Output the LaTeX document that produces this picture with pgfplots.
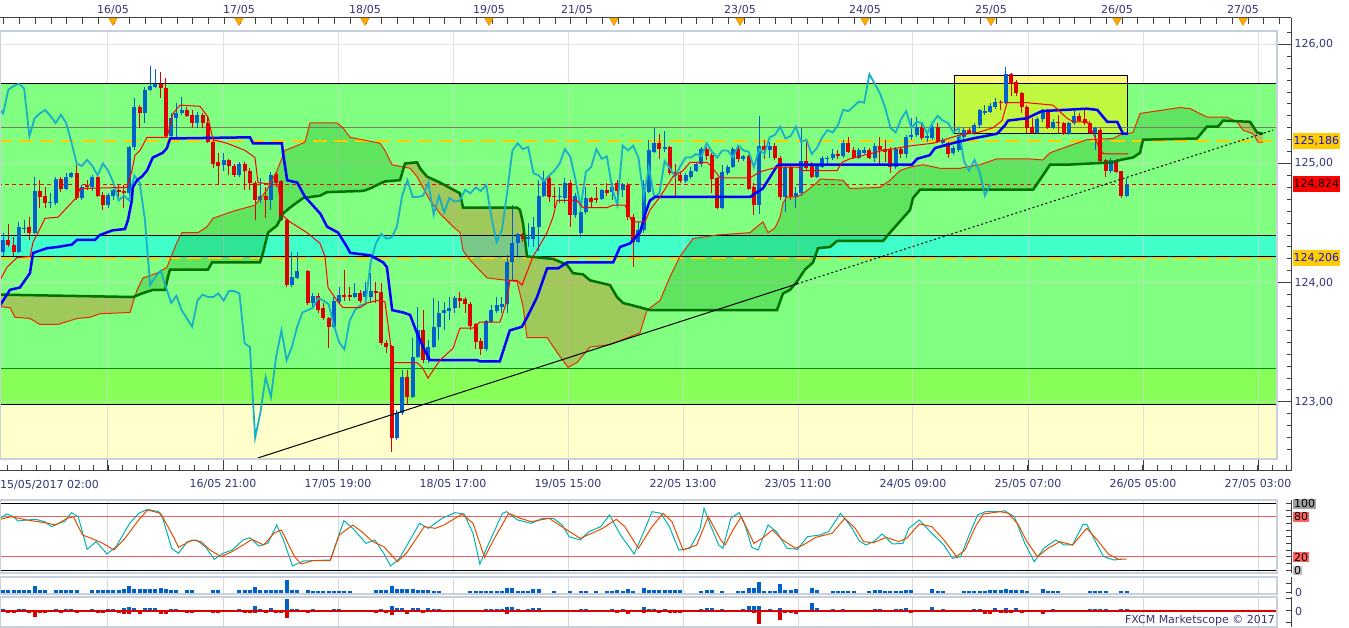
\documentclass[border=0pt]{standalone}
\usepackage{fontspec}
\setmainfont{DejaVu Sans}
\usepackage{pgfplots}
\usepackage{pgfplotstable}
\pgfplotsset{compat=1.18}

\definecolor{bgG}{RGB}{128,255,128}
\definecolor{bgL}{RGB}{136,255,88}
\definecolor{bgY}{RGB}{255,255,204}
\definecolor{bgC}{RGB}{64,255,200}
\definecolor{cB}{RGB}{0,96,204}
\definecolor{cR}{RGB}{221,0,0}
\definecolor{kij}{RGB}{0,0,255}
\definecolor{chik}{RGB}{24,176,200}
\definecolor{sA}{RGB}{235,40,0}
\definecolor{sB}{RGB}{0,112,0}
\definecolor{navy}{RGB}{51,51,120}
\definecolor{lvO}{RGB}{255,204,0}
\definecolor{frm}{RGB}{200,208,220}
\definecolor{stK}{RGB}{0,178,178}
\definecolor{stD}{RGB}{228,76,0}
\definecolor{cloudG}{RGB}{0,150,0}
\definecolor{cloudK}{RGB}{210,120,40}
\definecolor{lvR}{RGB}{240,96,96}
\definecolor{axc}{RGB}{64,64,64}
\definecolor{grd}{RGB}{205,215,205}
\definecolor{lvGray}{RGB}{120,128,96}
\definecolor{triO}{RGB}{255,170,0}
\definecolor{triE}{RGB}{220,130,0}

\newcommand{\lbl}{\fontsize{11bp}{13bp}\selectfont}

\pgfplotsset{
  base/.style={
    scale only axis, width=1291bp,
    xmin=-0.6, xmax=245.305,
    tick style={draw=axc, line width=1bp},
    tick label style={font=\lbl, text=navy},
    tick align=inside,
  },
  fin/.style={
    axis line style={-, draw=axc, line width=1bp},
    every outer x axis line/.append style={-},
    every outer y axis line/.append style={-},
    every inner x axis line/.append style={-},
    every inner y axis line/.append style={-},
  },
}

\pgfplotstableread{
i o h l c d
0 124.26 124.42 124.22 124.36 1
1 124.36 124.49 124.30 124.32 0
2 124.32 124.38 124.22 124.26 0
3 124.26 124.51 124.25 124.47 1
4 124.45 124.53 124.42 124.46 1
5 124.47 124.55 124.36 124.42 0
6 124.42 124.89 124.41 124.77 1
7 124.77 124.86 124.63 124.72 0
8 124.73 124.80 124.63 124.67 0
9 124.67 124.75 124.63 124.68 1
10 124.67 124.89 124.65 124.87 1
11 124.87 124.89 124.76 124.79 0
12 124.79 124.92 124.78 124.89 1
13 124.89 124.93 124.88 124.92 1
14 124.92 124.99 124.69 124.71 0
15 124.71 124.82 124.69 124.80 1
16 124.82 124.86 124.78 124.80 0
17 124.80 124.90 124.77 124.89 1
18 124.89 124.90 124.72 124.73 0
19 124.74 124.76 124.61 124.65 0
20 124.65 124.75 124.63 124.74 1
21 124.73 124.79 124.69 124.78 1
22 124.78 124.82 124.72 124.76 0
23 124.77 124.82 124.63 124.75 0
24 124.75 125.15 124.72 125.14 1
25 125.14 125.55 125.11 125.47 1
26 125.47 125.49 125.30 125.42 0
27 125.42 125.64 125.34 125.62 1
28 125.62 125.82 125.61 125.65 1
29 125.64 125.79 125.63 125.67 1
30 125.67 125.77 125.55 125.63 0
31 125.63 125.72 125.21 125.23 0
32 125.23 125.42 125.21 125.38 1
33 125.38 125.51 125.22 125.42 1
34 125.42 125.56 125.41 125.45 1
35 125.45 125.47 125.39 125.40 0
36 125.41 125.45 125.30 125.34 0
37 125.34 125.43 125.30 125.41 1
38 125.41 125.42 125.30 125.34 0
39 125.34 125.39 125.17 125.18 0
40 125.18 125.20 124.96 125.00 0
41 125.01 125.09 124.82 124.98 0
42 124.99 125.09 124.94 125.03 1
43 125.03 125.04 124.90 124.98 0
44 124.98 125.00 124.89 124.90 0
45 124.90 125.01 124.89 125.00 1
46 125.00 125.01 124.78 124.94 0
47 124.94 124.96 124.78 124.84 0
48 124.84 124.85 124.53 124.69 0
49 124.69 124.88 124.67 124.73 1
50 124.73 124.80 124.54 124.69 0
51 124.69 124.93 124.61 124.90 1
52 124.91 124.93 124.80 124.84 0
53 124.85 124.86 124.52 124.53 0
54 124.53 124.54 123.96 123.98 0
55 123.98 124.26 123.96 124.05 1
56 124.04 124.26 124.03 124.10 1
58 124.10 124.11 123.81 123.83 0
59 123.83 123.91 123.80 123.89 1
60 123.89 123.91 123.75 123.77 0
61 123.79 123.83 123.69 123.70 0
62 123.70 123.71 123.45 123.63 0
63 123.63 123.88 123.62 123.85 1
64 123.84 123.96 123.83 123.90 1
65 123.90 124.11 123.85 123.88 0
66 123.90 123.96 123.85 123.88 0
67 123.88 124.00 123.87 123.91 1
68 123.91 123.94 123.83 123.85 0
69 123.88 124.01 123.85 123.93 1
70 123.88 124.08 123.83 123.93 1
71 123.93 124.01 123.83 123.91 0
72 123.92 124.00 123.48 123.49 0
73 123.49 123.52 123.41 123.46 0
74 123.47 123.48 122.58 122.70 0
75 122.70 122.93 122.68 122.91 1
76 122.91 123.27 122.89 123.21 1
77 123.21 123.27 122.97 123.04 0
78 123.04 123.54 123.03 123.38 1
79 123.38 123.80 123.37 123.60 1
80 123.60 123.77 123.33 123.35 0
81 123.35 123.52 123.33 123.46 1
82 123.46 123.87 123.45 123.63 1
83 123.63 123.85 123.52 123.75 1
84 123.75 123.84 123.60 123.77 1
85 123.76 123.88 123.69 123.79 1
86 123.79 123.89 123.75 123.87 1
87 123.87 123.92 123.79 123.85 0
88 123.86 123.88 123.75 123.82 0
89 123.82 123.84 123.60 123.64 0
90 123.65 123.66 123.44 123.50 0
91 123.51 123.54 123.39 123.44 0
92 123.44 123.69 123.43 123.68 1
93 123.67 123.81 123.66 123.77 1
94 123.76 123.88 123.75 123.81 1
95 123.80 123.88 123.75 123.82 1
96 123.82 124.23 123.75 124.17 1
97 124.17 124.65 124.02 124.33 1
98 124.33 124.42 124.22 124.41 1
99 124.41 124.42 124.34 124.37 0
100 124.37 124.50 124.30 124.38 1
101 124.37 124.55 124.30 124.47 1
102 124.47 124.86 124.27 124.73 1
103 124.73 124.94 124.72 124.86 1
104 124.88 124.90 124.68 124.72 0
105 124.73 124.80 124.63 124.72 0
106 124.72 124.80 124.67 124.73 1
107 124.71 124.88 124.67 124.84 1
108 124.84 124.86 124.47 124.57 0
109 124.57 124.75 124.54 124.73 1
110 124.42 124.61 124.38 124.59 1
111 124.59 124.80 124.58 124.71 1
112 124.71 124.72 124.63 124.68 0
113 124.71 124.80 124.67 124.69 0
114 124.70 124.79 124.69 124.78 1
115 124.78 124.84 124.73 124.75 0
116 124.76 124.84 124.69 124.80 1
117 124.84 124.86 124.67 124.77 0
118 124.78 124.84 124.72 124.82 1
119 124.82 124.84 124.53 124.55 0
120 124.55 124.58 124.13 124.34 0
121 124.34 124.51 124.33 124.44 1
122 124.44 124.86 124.42 124.76 1
123 124.76 125.20 124.75 125.11 1
124 125.10 125.30 125.09 125.17 1
125 125.17 125.25 125.04 125.12 0
126 125.12 125.27 125.10 125.14 1
127 125.14 125.15 124.90 124.92 0
128 124.93 125.00 124.72 124.90 0
129 124.90 124.93 124.84 124.85 0
130 124.85 124.92 124.84 124.90 1
131 124.89 124.97 124.87 124.94 1
132 124.94 125.01 124.93 125.00 1
133 125.00 125.14 124.97 125.12 1
134 125.12 125.14 125.03 125.06 0
135 125.07 125.09 124.75 124.87 0
136 124.88 124.89 124.62 124.63 0
137 124.63 124.99 124.62 124.93 1
138 124.92 124.99 124.90 124.97 1
139 124.97 125.14 124.96 125.12 1
140 125.12 125.14 125.01 125.04 0
141 125.04 125.07 125.02 125.06 1
142 125.06 125.07 124.78 124.79 0
143 124.80 124.84 124.57 124.65 0
144 124.65 125.40 124.58 125.15 1
145 125.15 125.20 125.04 125.11 0
146 125.11 125.18 125.05 125.15 1
147 125.15 125.17 125.03 125.05 0
148 125.05 125.06 124.69 124.72 0
149 124.72 124.98 124.59 124.97 1
150 124.97 124.99 124.69 124.72 0
151 124.72 124.80 124.63 124.75 1
152 124.75 125.30 124.73 125.02 1
153 125.02 125.18 124.94 124.96 0
154 124.98 125.01 124.88 124.89 0
155 124.89 124.99 124.88 124.98 1
156 124.97 125.06 124.96 125.05 1
157 125.04 125.06 125.00 125.05 1
158 125.05 125.12 125.03 125.08 1
159 125.08 125.11 125.04 125.06 0
160 125.06 125.20 125.05 125.17 1
161 125.17 125.22 125.09 125.10 0
162 125.11 125.14 125.04 125.05 0
163 125.05 125.13 125.04 125.11 1
164 125.09 125.14 125.08 125.11 1
165 125.11 125.13 125.04 125.05 0
166 125.05 125.17 125.01 125.15 1
167 125.15 125.22 125.00 125.11 0
168 125.12 125.20 125.01 125.10 0
169 125.12 125.14 124.92 124.97 0
170 124.97 125.14 124.95 125.12 1
171 125.12 125.14 125.05 125.08 0
172 125.08 125.24 125.05 125.22 1
173 125.22 125.38 125.20 125.24 1
174 125.24 125.39 125.22 125.31 1
175 125.31 125.35 125.20 125.21 0
176 125.21 125.26 125.18 125.23 1
177 125.21 125.32 125.20 125.31 1
178 125.31 125.34 125.17 125.18 0
179 125.17 125.21 125.15 125.20 1
180 125.17 125.18 125.05 125.08 0
181 125.09 125.15 125.07 125.13 1
182 125.11 125.24 125.10 125.22 1
183 125.22 125.30 125.20 125.28 1
184 125.28 125.30 125.25 125.26 0
185 125.26 125.34 125.24 125.32 1
186 125.32 125.46 125.30 125.45 1
187 125.42 125.49 125.41 125.44 1
188 125.43 125.51 125.42 125.48 1
189 125.47 125.55 125.46 125.52 1
190 125.52 125.53 125.45 125.51 0
191 125.51 125.81 125.50 125.75 1
192 125.75 125.76 125.57 125.67 0
193 125.68 125.70 125.57 125.59 0
194 125.59 125.60 125.42 125.47 0
195 125.47 125.49 125.26 125.30 0
196 125.31 125.38 125.25 125.26 0
197 125.26 125.39 125.25 125.37 1
198 125.37 125.46 125.35 125.44 1
199 125.44 125.46 125.29 125.30 0
200 125.30 125.37 125.29 125.35 1
201 125.35 125.41 125.25 125.34 0
202 125.34 125.35 125.24 125.25 0
203 125.25 125.35 125.24 125.34 1
204 125.34 125.45 125.32 125.40 1
205 125.40 125.42 125.35 125.36 0
206 125.37 125.45 125.32 125.34 0
207 125.34 125.36 125.25 125.26 0
208 125.26 125.31 125.11 125.30 1
209 125.28 125.30 125.01 125.02 0
210 125.03 125.04 124.89 124.94 0
211 124.94 125.05 124.92 125.03 1
212 125.03 125.04 124.92 124.93 0
213 124.94 124.94 124.71 124.73 0
214 124.73 124.88 124.72 124.82 1
}\candles

\pgfplotstableread{
i v
0 2.5
1 2.5
2 2.5
3 2.5
4 2.5
5 2.5
6 6.5
7 2.5
8 2.5
10 2.5
11 2.5
12 2.5
13 2.5
14 2.5
17 2.5
18 2.5
19 3
20 2.5
21 2.5
22 2.5
23 4
24 6.5
25 3.5
26 3.5
27 3.5
28 3.5
29 3.5
30 4.5
31 3.5
32 2.5
33 2.5
35 2.5
36 2.5
40 3
41 3
45 2.5
46 2.5
47 2.5
48 5.5
49 2.5
50 2.5
51 3
52 3
53 3
54 13
55 2.5
56 2.5
58 2.5
59 2
60 2
61 2
62 2
63 2
64 2
65 2
66 2
71 2.5
72 2.5
73 3
74 7
75 3.5
76 3.5
77 3.5
78 3.5
79 3
80 3
81 3
82 2
83 2
89 2
90 2
91 2
92 2
93 2
94 2
95 2
96 4.5
97 4.5
98 2
99 2
100 2
101 3.5
102 3.5
105 2
108 2
110 2
111 2
113 2
115 2
116 2
117 3
118 2
119 3.5
120 2
122 5
123 2.5
124 2.5
125 2.5
126 2.5
127 2.5
128 2.5
129 2.5
133 2
134 3
135 3
137 2
140 2
141 2
142 5
143 5
144 11
145 2
146 2
147 2
148 9
149 2.5
150 2.5
151 3.5
154 5
155 3
158 2
159 2
160 2
161 2
162 2
165 2
166 2.5
167 2.5
168 2
169 2
170 2
171 2
172 3
173 3
177 3.5
178 2
179 2
183 2
184 2
185 2
186 2
187 2
188 3
189 3
190 3
191 4
192 3
193 3
194 3
195 2
198 3.5
199 2
200 2
201 2
207 2
208 2
209 2
210 2
213 2
214 2
}\vol

\pgfplotstableread{
i p
0 2
1 -2
2 -2
3 2
4 2
5 -2
6 -6
7 -2
8 -2
10 2
11 -2
12 2
13 2
14 -2
17 2
18 -2
19 -2.5
20 2
21 2
22 -2
23 3
23 -3
24 4
24 -3
25 3
26 -3
27 3
28 3
29 3
30 -3.5
31 -3
32 2
33 2
35 -2
36 -2
40 -2.5
41 -2.5
45 2
46 -2
47 -2
48 4.5
48 -2
49 2
50 -2
51 2.5
52 -2.5
53 -2.5
54 12
54 -7
55 2
56 2
58 -2
59 1.5
60 -1.5
61 -1.5
62 -1.5
63 1.5
64 1.5
65 -1.5
66 -1.5
71 -2
72 2
73 -2.5
74 5
74 -4
75 3
76 3
77 -3
78 3
79 2.5
80 -2.5
81 2.5
82 1.5
83 1.5
89 -1.5
90 -1.5
91 -1.5
92 1.5
93 1.5
94 1.5
95 1.5
96 3.5
96 -3
97 3.5
98 1.5
99 -1.5
100 1.5
101 3
102 3
105 -1.5
108 -1.5
110 1.5
111 1.5
113 -1.5
115 -1.5
116 1.5
117 -2.5
118 1.5
119 -3
120 -1.5
122 4
122 -2
123 2
124 2
125 -2
126 2
127 -2
128 -2
129 -2
133 1.5
134 2.5
135 2.5
137 1.5
140 -1.5
141 1.5
142 5
143 5
143 -2
144 5
144 -13
145 -1.5
146 1.5
147 -1.5
148 3
148 -9
149 -2
150 -2
151 -3.5
154 8
155 2.5
158 1.5
159 -1.5
160 1.5
161 -1.5
162 -1.5
165 -1.5
166 2
167 2
168 -1.5
169 -1.5
170 1.5
171 1.5
172 2.5
173 -2.5
177 4
178 -1.5
179 1.5
183 -1.5
184 -1.5
185 1.5
186 2
187 -3
188 -3
189 2.5
190 -2.5
191 3
191 -2.5
192 -2.5
193 2.5
194 -2.5
195 -1.5
198 -3
199 -1.5
200 1.5
201 -1.5
207 1.5
208 1.5
209 1.5
210 1.5
213 1.5
214 1.5
}\pthree

\begin{document}
\begin{tikzpicture}[x=1bp,y=1bp]
\useasboundingbox (0,0) rectangle (1349,628);

% ================= MAIN PRICE PANEL =================
\begin{axis}[base, at={(0bp,169bp)}, anchor=south west, height=428bp,
  ymin=122.521, ymax=126.112,
  axis x line=none, axis y line*=right,
  ytick={123,124,125,126},
  minor ytick={122.6,122.7,...,126.15},
  major tick length=14bp, minor tick length=4bp,
  /pgf/number format/fixed, /pgf/number format/fixed zerofill,
  /pgf/number format/precision=2, /pgf/number format/use comma,
  /pgf/number format/assume math mode=true,
  clip=true, fin]
% background zones
\addplot[draw=none, fill=bgG] coordinates {(-1,123.28) (242.64,123.28) (242.64,125.673) (-1,125.673)};
\addplot[draw=none, fill=bgL] coordinates {(-1,122.98) (242.64,122.98) (242.64,123.28) (-1,123.28)};
\addplot[draw=none, fill=bgY] coordinates {(-1,122.3) (242.64,122.3) (242.64,122.98) (-1,122.98)};
\addplot[draw=none, fill=bgC] coordinates {(-1,124.206) (242.64,124.206) (242.64,124.40) (-1,124.40)};
% grid
\addplot[ycomb, draw=grd, draw opacity=0.7, line width=1bp] coordinates {(19.97,127) (41.88,127) (63.78,127) (85.69,127) (107.59,127) (129.50,127) (151.40,127) (173.30,127) (195.21,127) (217.12,127) (239.02,127)};
\addplot[draw=grd, draw opacity=0.7, line width=1bp] coordinates {(-1,126) (242.64,126)};
\addplot[draw=grd, draw opacity=0.7, line width=1bp] coordinates {(-1,125) (242.64,125)};
\addplot[draw=grd, draw opacity=0.7, line width=1bp] coordinates {(-1,124) (242.64,124)};
\addplot[draw=grd, draw opacity=0.7, line width=1bp] coordinates {(-1,123) (242.64,123)};
% cloud segments
\addplot[draw=none, fill=cloudK, fill opacity=0.4] coordinates {(-0.6,123.80) (1.30,123.79) (2.26,123.71) (5.11,123.70) (7.02,123.65) (10.45,123.65) (14.07,123.70) (16.54,123.71) (18.45,123.74) (24.16,123.75) (25.2,123.89) (24.73,123.88) (-0.6,123.90)};
\addplot[draw=none, fill=cloudG, fill opacity=0.25] coordinates {(25.2,123.89) (25.50,123.94) (26.64,124.04) (29.30,124.08) (31.21,124.13) (33.11,124.34) (34.07,124.42) (37.11,124.42) (38.83,124.47) (39.97,124.54) (43.78,124.60) (47.97,124.65) (50.26,124.78) (52.16,124.94) (53.69,125.11) (55.97,125.15) (57.50,125.18) (58.45,125.34) (63.59,125.34) (64.73,125.30) (66.07,125.22) (71.78,125.17) (72.73,125.11) (74.07,124.99) (76.3,124.97) (75.59,124.86) (72.73,124.85) (71.21,124.82) (69.88,124.79) (68.54,124.77) (61.69,124.76) (60.35,124.73) (57.11,124.71) (54.64,124.63) (53.30,124.58) (52.16,124.48) (50.45,124.42) (49.50,124.25) (48.92,124.17) (39.78,124.17) (39.02,124.11) (31.78,124.11) (31.40,124.05) (30.83,123.94) (28.54,123.94) (26.45,123.91)};
\addplot[draw=none, fill=cloudK, fill opacity=0.4] coordinates {(76.3,124.97) (77.50,124.96) (78.83,124.89) (81.30,124.69) (83.21,124.58) (85.69,124.47) (87.02,124.42) (87.59,124.27) (88.92,124.19) (92.16,124.04) (97.88,124.01) (99.02,123.80) (99.78,123.54) (103.59,123.54) (106.07,123.38) (107.59,123.29) (109.30,123.33) (111.78,123.46) (115.59,123.48) (121.30,123.58) (122.64,123.77) (122.9,123.78) (120.73,123.80) (118.07,123.83) (116.92,123.88) (115.59,123.98) (111.78,124.02) (110.45,124.07) (108.54,124.08) (107.40,124.15) (104.73,124.20) (99.78,124.22) (99.02,124.50) (98.45,124.61) (97.88,124.63) (87.59,124.63) (87.02,124.75) (83.21,124.84) (80.73,124.89) (79.40,124.96) (78.83,125.01) (76.54,125.00)};
\addplot[draw=none, fill=cloudG, fill opacity=0.25] coordinates {(122.9,123.78) (125.11,123.85) (127.02,124.05) (128.92,124.22) (131.40,124.37) (135.97,124.40) (142.26,124.42) (143.59,124.47) (144.73,124.51) (145.69,124.42) (147.02,124.46) (147.97,124.55) (148.54,124.67) (149.30,124.72) (151.21,124.72) (152.73,124.76) (155.02,124.84) (155.59,124.87) (159.97,124.86) (161.30,124.79) (167.02,124.80) (168.92,124.86) (170.83,124.94) (172.73,124.97) (175.21,124.99) (178.45,124.96) (182.26,124.96) (186.07,124.99) (189.30,125.04) (195.02,125.04) (198.07,125.03) (199.40,125.09) (201.88,125.13) (206.45,125.20) (211.40,125.21) (212.73,125.24) (215.21,125.26) (216.55,125.42) (224.16,125.47) (226.07,125.46) (229.30,125.39) (233.11,125.39) (234.9,125.35) (232.35,125.36) (231.40,125.31) (229.30,125.31) (227.40,125.21) (217.12,125.20) (216.55,125.09) (215.21,125.05) (212.73,125.03) (211.40,125.01) (202.64,124.99) (199.40,124.99) (197.11,124.84) (196.16,124.78) (174.64,124.78) (173.30,124.71) (172.73,124.61) (168.92,124.42) (167.59,124.35) (158.83,124.35) (157.50,124.30) (155.21,124.29) (154.26,124.17) (152.73,124.11) (151.21,124.01) (149.88,123.94) (148.54,123.91) (147.40,123.77) (123.21,123.77)};
\addplot[draw=none, fill=cloudK, fill opacity=0.4] coordinates {(234.9,125.35) (235.02,125.35) (236.16,125.28) (238.07,125.25) (239.02,125.18) (239.97,125.18) (239.97,125.25) (238.83,125.26) (237.50,125.35)};
% highlight box
\addplot[fill=yellow, fill opacity=0.5, draw=black, line width=1bp] coordinates {(181.3,125.25) (214.07,125.25) (214.07,125.74) (181.3,125.74) (181.3,125.25)};
% level lines
\addplot[black, line width=1bp] coordinates {(-1,125.673) (242.64,125.673)};
\addplot[lvGray, line width=1bp] coordinates {(-1,125.30) (242.64,125.30)};
\addplot[lvO, line width=2bp, dash pattern=on 14bp off 7bp] coordinates {(-1,125.186) (242.64,125.186)};
\addplot[red, line width=1bp, dash pattern=on 4bp off 3bp] coordinates {(-1,124.824) (242.64,124.824)};
\addplot[black, line width=1bp] coordinates {(-1,124.40) (242.64,124.40)};
\addplot[black, line width=1bp] coordinates {(-1,124.22) (242.64,124.22)};
\addplot[lvO, line width=2bp, dash pattern=on 14bp off 7bp] coordinates {(-1,124.206) (242.64,124.206)};
\addplot[color={rgb,255:red,0;green,140;blue,0}, line width=1bp] coordinates {(-1,123.28) (242.64,123.28)};
\addplot[black, line width=1bp] coordinates {(-1,122.98) (242.64,122.98)};
% candles
\addplot[cB, line width=1bp, quiver={u=0, v=\thisrow{l}-\thisrow{h}}, restrict expr to domain={\thisrow{d}}{0.5:1.5}] table[x=i, y=h] {\candles};
\addplot[cB, line width=4bp, quiver={u=0, v=\thisrow{c}-\thisrow{o}}, restrict expr to domain={\thisrow{d}}{0.5:1.5}] table[x=i, y=o] {\candles};
\addplot[cR, line width=1bp, quiver={u=0, v=\thisrow{l}-\thisrow{h}}, restrict expr to domain={\thisrow{d}}{-0.5:0.5}] table[x=i, y=h] {\candles};
\addplot[cR, line width=4bp, quiver={u=0, v=\thisrow{c}-\thisrow{o}}, restrict expr to domain={\thisrow{d}}{-0.5:0.5}] table[x=i, y=o] {\candles};
% Senkou A
\addplot[sA, line width=1bp] coordinates {(-0.6,123.80) (1.30,123.79) (2.26,123.71) (5.11,123.70) (7.02,123.65) (10.45,123.65) (14.07,123.70) (16.54,123.71) (18.45,123.74) (24.16,123.75) (25.50,123.94) (26.64,124.04) (29.30,124.08) (31.21,124.13) (33.11,124.34) (34.07,124.42) (37.11,124.42) (38.83,124.47) (39.97,124.54) (43.78,124.60) (47.97,124.65) (50.26,124.78) (52.16,124.94) (53.69,125.11) (55.97,125.15) (57.50,125.18) (58.45,125.34) (63.59,125.34) (64.73,125.30) (66.07,125.22) (71.78,125.17) (72.73,125.11) (74.07,124.99) (77.50,124.96) (78.83,124.89) (81.30,124.69) (83.21,124.58) (85.69,124.47) (87.02,124.42) (87.59,124.27) (88.92,124.19) (92.16,124.04) (97.88,124.01) (99.02,123.80) (99.78,123.54) (103.59,123.54) (106.07,123.38) (107.59,123.29) (109.30,123.33) (111.78,123.46) (115.59,123.48) (121.30,123.58) (122.64,123.77) (125.11,123.85) (127.02,124.05) (128.92,124.22) (131.40,124.37) (135.97,124.40) (142.26,124.42) (143.59,124.47) (144.73,124.51) (145.69,124.42) (147.02,124.46) (147.97,124.55) (148.54,124.67) (149.30,124.72) (151.21,124.72) (152.73,124.76) (155.02,124.84) (155.59,124.87) (159.97,124.86) (161.30,124.79) (167.02,124.80) (168.92,124.86) (170.83,124.94) (172.73,124.97) (175.21,124.99) (178.45,124.96) (182.26,124.96) (186.07,124.99) (189.30,125.04) (195.02,125.04) (198.07,125.03) (199.40,125.09) (201.88,125.13) (206.45,125.20) (211.40,125.21) (212.73,125.24) (215.21,125.26) (216.55,125.42) (224.16,125.47) (226.07,125.46) (229.30,125.39) (233.11,125.39) (235.02,125.35) (236.16,125.28) (238.07,125.25) (239.02,125.18) (239.97,125.18)};
% Senkou B
\addplot[sB, line width=2.5bp] coordinates {(-0.6,123.90) (24.73,123.88) (26.45,123.91) (28.54,123.94) (30.83,123.94) (31.40,124.05) (31.78,124.11) (39.02,124.11) (39.78,124.17) (48.92,124.17) (49.50,124.25) (50.45,124.42) (52.16,124.48) (53.30,124.58) (54.64,124.63) (57.11,124.71) (60.35,124.73) (61.69,124.76) (68.54,124.77) (69.88,124.79) (71.21,124.82) (72.73,124.85) (75.59,124.86) (76.54,125.00) (78.83,125.01) (79.40,124.96) (80.73,124.89) (83.21,124.84) (87.02,124.75) (87.59,124.63) (97.88,124.63) (98.45,124.61) (99.02,124.50) (99.78,124.22) (104.73,124.20) (107.40,124.15) (108.54,124.08) (110.45,124.07) (111.78,124.02) (115.59,123.98) (116.92,123.88) (118.07,123.83) (120.73,123.80) (123.21,123.77) (147.40,123.77) (148.54,123.91) (149.88,123.94) (151.21,124.01) (152.73,124.11) (154.26,124.17) (155.21,124.29) (157.50,124.30) (158.83,124.35) (167.59,124.35) (168.92,124.42) (172.73,124.61) (173.30,124.71) (174.64,124.78) (196.16,124.78) (197.11,124.84) (199.40,124.99) (202.64,124.99) (211.40,125.01) (212.73,125.03) (215.21,125.05) (216.55,125.09) (217.12,125.20) (227.40,125.21) (229.30,125.31) (231.40,125.31) (232.35,125.36) (237.50,125.35) (238.83,125.26) (239.97,125.25)};
% Chikou span (close shifted 26 back)
\addplot[chik, line width=1.8bp] table[x expr=\thisrow{i}-26, y=c] {\candles};
% Kijun
\addplot[kij, line width=2.5bp] coordinates {(-0.6,123.81) (1.3,123.94) (3.2,123.96) (5.1,124.08) (5.7,124.25) (8.4,124.29) (10.4,124.30) (13.1,124.32) (14.1,124.36) (17.5,124.36) (18.4,124.40) (20.9,124.44) (23.2,124.45) (23.8,124.53) (24.5,124.69) (24.7,124.80) (25.5,124.86) (26.4,124.89) (27.4,124.94) (28.5,125.05) (30.4,125.09) (31.2,125.13) (31.8,125.21) (47.0,125.22) (47.6,125.17) (53.1,125.17) (53.3,125.09) (54.1,124.86) (56.0,124.84) (57.5,124.72) (60.4,124.58) (61.7,124.47) (63.8,124.42) (65.5,124.30) (66.1,124.25) (69.9,124.23) (72.4,124.17) (73.1,124.13) (74.1,123.77) (76.2,123.75) (77.5,123.73) (78.8,123.58) (80.0,123.46) (81.3,123.35) (90.3,123.35) (90.8,123.34) (94.6,123.34) (96.5,123.60) (98.8,123.63) (99.8,123.71) (101.7,123.88) (103.6,124.12) (105.7,124.12) (107.4,124.17) (116.2,124.17) (117.5,124.30) (119.4,124.33) (121.3,124.42) (122.3,124.58) (123.2,124.69) (124.2,124.72) (142.3,124.72) (143.6,124.76) (144.7,124.79) (147.4,124.98) (148.0,124.99) (173.1,124.99) (174.1,125.04) (176.5,125.07) (177.5,125.13) (181.7,125.18) (184.7,125.21) (189.3,125.25) (190.8,125.32) (191.4,125.36) (195.0,125.38) (196.9,125.42) (197.9,125.44) (206.4,125.46) (208.4,125.45) (210.3,125.35) (212.2,125.35) (213.3,125.25) (214.3,125.25)};
% Tenkan
\addplot[red, line width=1bp] coordinates {(-0.6,124.02) (0.73,124.13) (2.64,124.21) (5.11,124.22) (5.69,124.34) (6.64,124.42) (7.97,124.54) (10.45,124.55) (12.16,124.63) (14.07,124.72) (14.64,124.79) (23.59,124.80) (24.54,124.94) (25.11,125.07) (26.07,125.11) (27.40,125.22) (31.21,125.22) (32.35,125.42) (33.69,125.49) (37.50,125.48) (39.02,125.39) (39.97,125.20) (42.64,125.17) (46.07,125.11) (47.97,125.05) (48.54,124.84) (52.35,124.82) (53.11,124.57) (54.64,124.51) (57.88,124.42) (60.35,124.33) (61.30,124.22) (61.88,123.96) (63.59,123.85) (64.73,123.79) (67.97,123.79) (69.30,123.83) (71.21,123.85) (72.73,123.84) (73.69,123.52) (74.07,123.33) (78.83,123.33) (79.97,123.28) (80.92,123.20) (83.21,123.35) (85.69,123.45) (87.02,123.62) (89.50,123.62) (90.83,123.67) (94.64,123.67) (95.97,123.85) (96.54,124.02) (97.88,124.02) (98.83,123.98) (100.92,124.22) (102.83,124.36) (103.59,124.42) (104.73,124.55) (105.50,124.69) (109.30,124.69) (110.45,124.63) (115.02,124.63) (116.16,124.65) (118.45,124.65) (119.78,124.51) (122.26,124.51) (123.21,124.61) (125.11,124.72) (127.59,124.89) (129.50,124.94) (130.83,125.01) (134.07,125.01) (135.02,124.97) (136.54,124.88) (142.26,124.88) (144.16,124.93) (147.40,124.97) (151.40,124.97) (152.35,124.94) (158.83,124.94) (159.78,125.01) (161.30,125.04) (167.59,125.11) (173.11,125.15) (177.11,125.17) (182.26,125.24) (185.69,125.26) (188.54,125.30) (190.26,125.36) (191.21,125.51) (195.02,125.51) (199.97,125.49) (202.64,125.38) (203.78,125.35) (206.45,125.35) (207.59,125.26) (208.92,125.11) (209.69,125.08) (214.26,125.08)};
% trend line
\addplot[black, line width=1bp] coordinates {(48.54,122.53) (151.21,123.99)};
\addplot[black, line width=1bp, dash pattern=on 2bp off 2.5bp] coordinates {(151.21,123.99) (241.87,125.28)};
\coordinate (LA) at (axis cs:245.305,125.186);
\coordinate (LB) at (axis cs:245.305,124.824);
\coordinate (LC) at (axis cs:245.305,124.206);
\end{axis}

\node[anchor=west, fill=lvO, text={rgb,255:red,20;green,20;blue,230}, inner xsep=1bp, inner ysep=0pt, minimum height=16bp, font=\lbl] at ([xshift=1.5bp]LA) {125,186};
\node[anchor=west, fill=red, text=black, inner xsep=1bp, inner ysep=0pt, minimum height=16bp, font=\lbl] at ([xshift=1.5bp]LB) {124,824};
\node[anchor=west, fill=lvO, text={rgb,255:red,20;green,20;blue,230}, inner xsep=1bp, inner ysep=0pt, minimum height=16bp, font=\lbl] at ([xshift=1.5bp]LC) {124,206};

% ================= TOP DATE STRIP =================
\begin{axis}[base, at={(0bp,597bp)}, anchor=south west, height=13bp,
  ymin=0, ymax=13, clip=false,
  axis x line*=top, axis y line*=right, ytick=\empty,
  xtick={20.92,44.92,68.92,92.54,109.3,140.35,164.17,188.16,212.16,236.16},
  xticklabels={16/05,17/05,18/05,19/05,21/05,23/05,24/05,25/05,26/05,27/05},
  major tick length=0pt,
  minor xtick={0.15,3.15,...,243.2},
  minor tick length=6bp, fin]
\addplot[only marks, mark=triangle*, mark size=5bp, mark options={rotate=180, fill=triO, draw=triE}] coordinates {(20.92,10.5) (44.92,10.5) (68.92,10.5) (92.54,10.5) (116.35,10.5) (140.35,10.5) (164.17,10.5) (188.16,10.5) (212.16,10.5) (236.16,10.5)};
\end{axis}

% ================= BOTTOM TIME AXIS =================
\begin{axis}[base, at={(0bp,157bp)}, anchor=south west, height=12bp,
  ymin=0, ymax=1,
  axis x line*=bottom, axis y line*=right, ytick=\empty,
  xtick={19.97,41.88,63.78,85.69,107.59,129.50,151.40,173.30,195.21,217.12,239.02},
  xticklabels={,16/05 21:00,17/05 19:00,18/05 17:00,19/05 15:00,22/05 13:00,23/05 11:00,24/05 09:00,25/05 07:00,26/05 05:00,27/05 03:00},
  minor xtick={-1.93,0.808,...,245},
  major tick length=11bp, minor tick length=6bp,
  xticklabel style={yshift=-5bp}, fin]
\addplot[draw=none] coordinates {(0,0.5)};
\end{axis}
\node[anchor=west, font=\lbl, text=navy, inner sep=0pt] at (0,143) {15/05/2017 02:00};

% ================= STOCHASTIC =================
\begin{axis}[base, at={(0bp,55bp)}, anchor=south west, height=73bp,
  ymin=-4, ymax=105.5,
  axis x line=none, axis y line*=right,
  ytick={0,10,...,100}, yticklabels={}, major tick length=5bp,
  clip=true, fin]
\addplot[ycomb, draw=black!15, line width=1bp] coordinates {(19.97,120) (41.88,120) (63.78,120) (85.69,120) (107.59,120) (129.50,120) (151.40,120) (173.30,120) (195.21,120) (217.12,120) (239.02,120)};
\addplot[ycomb, draw=black!15, line width=1bp] coordinates {(19.97,-20) (41.88,-20) (63.78,-20) (85.69,-20) (107.59,-20) (129.50,-20) (151.40,-20) (173.30,-20) (195.21,-20) (217.12,-20) (239.02,-20)};
\addplot[black, line width=1.5bp] coordinates {(-1,100) (242.64,100)};
\addplot[black, line width=1.5bp] coordinates {(-1,0) (242.64,0)};
\addplot[lvR, line width=1bp] coordinates {(-1,80) (242.64,80)};
\addplot[lvR, line width=1bp] coordinates {(-1,20) (242.64,20)};
\addplot[stK, line width=1bp] coordinates {(-0.6,78) (0.7,84.5) (1.95,80.5) (2.8,74) (4.5,75.5) (6.2,76.5) (7.9,73) (9.2,65.5) (10.5,70.5) (11.7,73) (13.0,86.5) (14.3,80.5) (16.0,31.5) (17.7,43) (19.8,24.5) (21.5,35.5) (24.1,70.5) (25.8,85.5) (27.5,91.5) (29.6,88) (30.4,78) (32.1,33) (33.4,25.5) (35.1,43) (36.8,45.5) (38.5,35.5) (40.2,16.5) (41.9,25.5) (43.6,30.5) (45.7,45.5) (47.0,49) (48.7,36.5) (50.4,40.5) (52.1,68) (53.4,45.5) (55.1,6.5) (57.2,14) (58.9,14.5) (62.3,15.5) (64.9,74.5) (66.6,63) (69.1,40.5) (70.8,45.5) (72.5,25.5) (73.8,6.5) (75.5,18) (79.3,70.5) (81.0,63) (83.6,78) (86.1,86.5) (87.8,84.5) (89.5,55.5) (90.8,9.5) (92.5,40.5) (95.1,85.5) (95.9,88) (98.0,75.5) (100.6,70.5) (102.7,78) (104.8,78) (106.5,68) (107.8,50.5) (109.9,45.5) (111.6,58) (113.8,65.5) (115.5,83) (117.6,53) (120.2,24.5) (121.9,55.5) (123.6,88) (125.3,85.5) (126.9,65.5) (128.7,30.5) (130.8,33) (132.7,60.5) (133.5,93) (134.7,68) (136.3,38) (137.1,33) (138.6,78) (140.2,86.5) (141.4,65.5) (142.6,34.5) (143.8,30.5) (145.7,68) (147.3,58) (149.3,33) (151.3,31.5) (153.2,50.5) (155.6,53) (157.2,58) (159.5,85.5) (161.5,65.5) (163.1,44) (164.3,38) (165.8,43) (167.4,54.5) (169.4,39.5) (171.4,40.5) (172.5,63) (174.5,75.5) (175.7,65.5) (176.9,55.5) (179.2,38) (180.8,18) (182.4,20.5) (184.0,53) (185.6,83) (187.1,88) (189.9,88) (190.7,89.5) (192.6,80.5) (194.6,40.5) (196.4,13) (198.2,33) (200.5,45.5) (202.1,38) (203.7,38) (205.7,69) (206.4,69) (208.4,38) (209.6,20.5) (211.6,15.5) (213.1,17)};
\addplot[stD, line width=1bp] coordinates {(-0.6,76.5) (1.5,80.5) (4.5,75.5) (7.9,71.5) (10.0,68) (12.2,78) (13.4,80.5) (15.1,53) (16.8,48) (19.0,40.5) (21.1,30.5) (23.2,48) (25.8,75.5) (27.5,90.5) (30.0,85.5) (32.6,48) (33.4,34.5) (36.0,45.5) (37.7,43) (39.4,30.5) (41.5,20.5) (43.6,28) (45.7,38) (47.4,46.5) (49.6,38) (51.7,56.5) (53.0,60.5) (55.5,20.5) (56.8,9.5) (58.9,14.5) (62.3,14.5) (64.0,53) (66.6,68) (68.3,58) (70.4,43) (72.5,35.5) (75.1,13) (76.8,25.5) (80.2,65.5) (82.3,63) (84.0,68) (87.4,84.5) (89.5,70.5) (91.7,19.5) (93.4,45.5) (96.3,85.5) (98.5,78) (100.6,73) (104.0,78) (107.4,60.5) (109.9,48) (112.1,55.5) (114.2,63) (116.8,76.5) (118.4,65.5) (121.0,33) (123.6,65.5) (125.7,85.5) (127.4,73) (129.5,30.5) (132.1,38) (134.3,80.5) (136.7,45.5) (137.5,38) (139.0,60.5) (140.6,80.5) (143.0,40.5) (144.6,48) (146.5,60.5) (148.5,45.5) (150.9,33) (152.4,38) (154.8,49.5) (157.9,55.5) (160.3,78) (162.3,63) (163.9,43) (165.8,41.5) (168.2,49.5) (170.6,43) (172.1,48) (174.5,69.5) (176.9,65.5) (179.2,45.5) (181.6,20.5) (183.2,30.5) (185.2,65.5) (186.7,84.5) (189.9,88) (191.5,85.5) (193.4,68) (195.0,43) (197.0,20.5) (199.0,33) (201.3,43) (203.7,38) (206.4,63) (208.4,45.5) (210.5,24.5) (212.4,16.5) (214.0,17)};
\coordinate (S100) at (axis cs:245.305,100);
\coordinate (S80) at (axis cs:245.305,80);
\coordinate (S20) at (axis cs:245.305,20);
\coordinate (S0) at (axis cs:245.305,0);
\end{axis}
\node[anchor=west, fill={rgb,255:red,160;green,160;blue,160}, inner xsep=1bp, inner ysep=1bp, font=\lbl] at ([xshift=2bp]S100) {100};
\node[anchor=west, fill={rgb,255:red,255;green,96;blue,96}, inner xsep=1bp, inner ysep=1bp, font=\lbl] at ([xshift=2bp]S80) {80};
\node[anchor=west, fill={rgb,255:red,255;green,96;blue,96}, inner xsep=1bp, inner ysep=1bp, font=\lbl] at ([xshift=2bp]S20) {20};
\node[anchor=west, fill={rgb,255:red,190;green,190;blue,190}, inner xsep=1bp, inner ysep=0.5bp, font=\lbl] at ([xshift=2bp]S0) {0};

% ================= VOLUME =================
\begin{axis}[base, at={(0bp,34bp)}, anchor=south west, height=17bp,
  ymin=-1, ymax=16,
  axis x line=none, axis y line*=right,
  ytick={0,9}, yticklabels={}, major tick length=5bp,
  clip=true, fin]
\addplot[ycomb, draw=black!15, line width=1bp] coordinates {(19.97,30) (41.88,30) (63.78,30) (85.69,30) (107.59,30) (129.50,30) (151.40,30) (173.30,30) (195.21,30) (217.12,30) (239.02,30)};
\addplot[ycomb, draw=black!15, line width=1bp] coordinates {(19.97,-5) (41.88,-5) (63.78,-5) (85.69,-5) (107.59,-5) (129.50,-5) (151.40,-5) (173.30,-5) (195.21,-5) (217.12,-5) (239.02,-5)};
\addplot[ycomb, cB, line width=4bp] table[x=i, y=v] {\vol};
\coordinate (V0) at (axis cs:245.305,0);
\end{axis}
\node[anchor=west, font=\lbl, text=navy, inner sep=0pt] at ([xshift=4bp, yshift=1bp]V0) {0};

% ================= UP/DOWN VOLUME =================
\begin{axis}[base, at={(0bp,1bp)}, anchor=south west, height=30bp,
  ymin=-16, ymax=14,
  axis x line=none, axis y line*=right,
  ytick={-12,0,12}, yticklabels={}, major tick length=5bp,
  clip=true, fin]
\addplot[ycomb, draw=black!15, line width=1bp] coordinates {(19.97,30) (41.88,30) (63.78,30) (85.69,30) (107.59,30) (129.50,30) (151.40,30) (173.30,30) (195.21,30) (217.12,30) (239.02,30)};
\addplot[ycomb, draw=black!15, line width=1bp] coordinates {(19.97,-30) (41.88,-30) (63.78,-30) (85.69,-30) (107.59,-30) (129.50,-30) (151.40,-30) (173.30,-30) (195.21,-30) (217.12,-30) (239.02,-30)};
\addplot[ycomb, cB, line width=4bp, restrict y to domain=0:30] table[x=i, y=p] {\pthree};
\addplot[ycomb, cR, line width=4bp, restrict y to domain=-30:0] table[x=i, y=p] {\pthree};
\addplot[cR, line width=2bp] coordinates {(-1,0) (242.64,0)};
\coordinate (P0) at (axis cs:245.305,0);
\end{axis}
\node[anchor=west, font=\lbl, text=navy, inner sep=0pt] at ([xshift=4bp]P0) {0};

% ================= PANEL FRAMES =================
\draw[frm, line width=2bp] (0,169) rectangle (1277,597);
\draw[frm, line width=2bp] (0,55) rectangle (1277,128);
\draw[frm, line width=2bp] (0,34) rectangle (1277,51);
\draw[frm, line width=2bp] (0,1) rectangle (1277,31);

\node[anchor=east, font=\lbl, text=navy, inner sep=0pt] at (1275,8) {FXCM Marketscope © 2017};
\end{tikzpicture}
\end{document}
